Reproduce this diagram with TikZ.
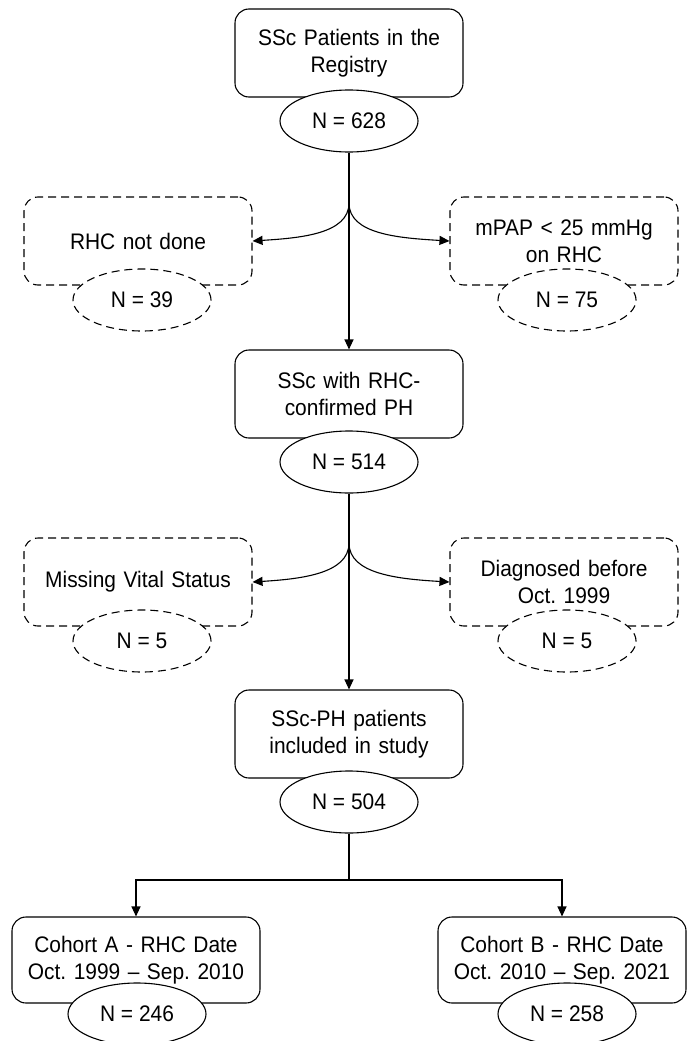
\documentclass[tikz,border=0pt]{standalone}
\usepackage{fontspec}
\setmainfont{Liberation Sans}[FakeStretch=0.93]
\usetikzlibrary{shapes.geometric,arrows.meta}
\frenchspacing
\begin{document}
\begin{tikzpicture}[x=1pt,y=-1pt,
  txt/.style={font=\fontsize{22.5}{27}\selectfont},
  box/.style={txt, draw, rounded corners=14pt, minimum width=228pt, minimum height=88pt, align=center, line width=1.1pt, inner sep=0pt, text width=222pt},
  dbox/.style={box, dash pattern=on 8pt off 5pt},
  wbox/.style={box, minimum width=248pt, minimum height=86pt, text width=240pt},
  nell/.style={txt, draw, ellipse, fill=white, minimum width=138pt, minimum height=62pt, inner sep=0pt, line width=1.1pt},
  dell/.style={nell, dash pattern=on 8pt off 5pt},
  arr/.style={-{Triangle[length=10pt,width=9pt]}, line width=1.1pt},
  ln/.style={line width=1.1pt}]
\useasboundingbox (0,0) rectangle (686,1041);

% main column
\node[box] (b1) at (349,53) {SSc Patients in the\\Registry};
\node[nell] (e1) at (349,121) {N = 628};
\node[box] (b2) at (349,394) {SSc with RHC-\\confirmed PH};
\node[nell] (e2) at (349,462) {N = 514};
\node[box] (b3) at (349,734) {SSc-PH patients\\included in study};
\node[nell] (e3) at (349,802) {N = 504};

% exclusions row 1
\node[dbox] (l1) at (138,241) {RHC not done};
\node[dell] (le1) at (142,300) {N = 39};
\node[dbox] (r1) at (564,241) {mPAP < 25 mmHg\\on RHC};
\node[dell] (re1) at (567,300) {N = 75};

% exclusions row 2
\node[dbox] (l2) at (138,582) {Missing Vital Status};
\node[dell] (le2) at (142,641) {N = 5};
\node[dbox] (r2) at (564,582) {Diagnosed before\\Oct. 1999};
\node[dell] (re2) at (567,641) {N = 5};

% cohorts
\node[wbox] (ca) at (136,960) {Cohort A - RHC Date\\Oct. 1999 -- Sep. 2010};
\node[nell] (cae) at (137,1014) {N = 246};
\node[wbox] (cb) at (562,960) {Cohort B - RHC Date\\Oct. 2010 -- Sep. 2021};
\node[nell] (cbe) at (567,1014) {N = 258};

% connectors
\coordinate (s1) at (349,203);
\coordinate (s2) at (349,543);
\coordinate (s3) at (349,880);

\draw[arr] (e1.south) -- (b2.north);
\draw[arr] (s1) .. controls (349,234) and (300,238) .. (l1.east);
\draw[arr] (s1) .. controls (349,234) and (398,238) .. (r1.west);

\draw[arr] (e2.south) -- (b3.north);
\draw[arr] (s2) .. controls (349,574) and (300,579) .. (l2.east);
\draw[arr] (s2) .. controls (349,574) and (398,579) .. (r2.west);

\draw[ln] (e3.south) -- (s3);
\draw[arr] (s3) -| (ca.north);
\draw[arr] (s3) -| (cb.north);
\end{tikzpicture}
\end{document}
